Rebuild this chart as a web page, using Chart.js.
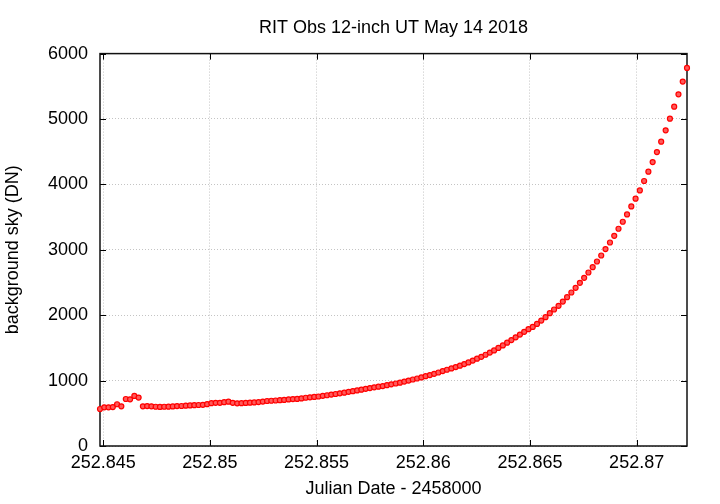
<!DOCTYPE html>
<html>
<head>
<meta charset="utf-8">
<title>RIT Obs 12-inch UT May 14 2018</title>
<script src="https://cdn.jsdelivr.net/npm/chart.js@4.4.1/dist/chart.umd.min.js"></script>
<style>
  html, body { margin: 0; padding: 0; background: #fff; }
  #wrap { width: 720px; height: 504px; }
</style>
</head>
<body>
<div id="wrap"><canvas id="skyChart"></canvas></div>
<script>
// Julian Date - 2458000
const julianDate = [
  252.84485, 252.84505, 252.84525, 252.84545, 252.84565, 252.84585, 252.84606, 252.84626, 252.84646, 252.84666,
  252.84686, 252.84706, 252.84726, 252.84746, 252.84766, 252.84786, 252.84806, 252.84826, 252.84846, 252.84867,
  252.84887, 252.84907, 252.84927, 252.84947, 252.84967, 252.84987, 252.85007, 252.85027, 252.85047, 252.85067,
  252.85087, 252.85107, 252.85128, 252.85148, 252.85168, 252.85188, 252.85208, 252.85228, 252.85248, 252.85268,
  252.85288, 252.85308, 252.85328, 252.85348, 252.85369, 252.85389, 252.85409, 252.85429, 252.85449, 252.85469,
  252.85489, 252.85509, 252.85529, 252.85549, 252.85569, 252.85589, 252.85609, 252.85630, 252.85650, 252.85670,
  252.85690, 252.85710, 252.85730, 252.85750, 252.85770, 252.85790, 252.85810, 252.85830, 252.85850, 252.85871,
  252.85891, 252.85911, 252.85931, 252.85951, 252.85971, 252.85991, 252.86011, 252.86031, 252.86051, 252.86071,
  252.86091, 252.86111, 252.86132, 252.86152, 252.86172, 252.86192, 252.86212, 252.86232, 252.86252, 252.86272,
  252.86292, 252.86312, 252.86332, 252.86352, 252.86373, 252.86393, 252.86413, 252.86433, 252.86453, 252.86473,
  252.86493, 252.86513, 252.86533, 252.86553, 252.86573, 252.86593, 252.86613, 252.86634, 252.86654, 252.86674,
  252.86694, 252.86714, 252.86734, 252.86754, 252.86774, 252.86794, 252.86814, 252.86834, 252.86854, 252.86875,
  252.86895, 252.86915, 252.86935, 252.86955, 252.86975, 252.86995, 252.87015, 252.87035, 252.87055, 252.87075,
  252.87095, 252.87115, 252.87136, 252.87156, 252.87176, 252.87196, 252.87216, 252.87236
];

// background sky (DN)
const skyCounts = [
  566, 592, 592, 595, 638, 607, 719, 714, 765, 740,
  607, 610, 607, 600, 597, 600, 602, 605, 610, 612,
  617, 620, 625, 627, 630, 640, 655, 660, 660, 670,
  678, 660, 653, 655, 658, 662, 666, 672, 680, 688,
  692, 696, 700, 705, 712, 717, 720, 728, 738, 744,
  750, 757, 767, 776, 786, 795, 806, 816, 828, 838,
  850, 862, 874, 886, 897, 907, 917, 930, 943, 956,
  968, 985, 1000, 1017, 1032, 1048, 1067, 1085, 1104, 1124,
  1145, 1166, 1186, 1207, 1228, 1252, 1278, 1306, 1335, 1363,
  1395, 1428, 1462, 1500, 1538, 1580, 1620, 1662, 1704, 1746,
  1786, 1821, 1867, 1918, 1970, 2031, 2087, 2143, 2209, 2276,
  2347, 2418, 2495, 2572, 2653, 2735, 2821, 2913, 3011, 3112,
  3214, 3322, 3429, 3541, 3663, 3781, 3908, 4052, 4194, 4342,
  4495, 4653, 4827, 5005, 5189, 5378, 5572, 5781
];

const xTicks = [252.845, 252.85, 252.855, 252.86, 252.865, 252.87];
const yTicks = [0, 1000, 2000, 3000, 4000, 5000, 6000];

Chart.defaults.font.family = '"Liberation Sans", Arial, sans-serif';
Chart.defaults.font.size = 18;
Chart.defaults.color = '#000';

// gnuplot style box with inward ticks on all four sides
const framePlugin = {
  id: 'frame',
  beforeDatasetsDraw(chart) {
    const { ctx, chartArea: a, scales } = chart;
    ctx.save();
    ctx.strokeStyle = '#000';
    ctx.lineWidth = 1;
    ctx.beginPath();
    xTicks.forEach(v => {
      const px = Math.round(scales.x.getPixelForValue(v)) + 0.5;
      ctx.moveTo(px, a.bottom); ctx.lineTo(px, a.bottom - 6);
      ctx.moveTo(px, a.top); ctx.lineTo(px, a.top + 6);
    });
    yTicks.forEach(v => {
      const py = Math.round(scales.y.getPixelForValue(v)) + 0.5;
      ctx.moveTo(a.left, py); ctx.lineTo(a.left + 6, py);
      ctx.moveTo(a.right, py); ctx.lineTo(a.right - 6, py);
    });
    ctx.stroke();
    ctx.lineWidth = 1.5;
    ctx.strokeStyle = '#111';
    ctx.strokeRect(a.left, a.top, a.right - a.left, a.bottom - a.top);
    ctx.restore();
  }
};

new Chart(document.getElementById('skyChart'), {
  type: 'scatter',
  data: {
    datasets: [{
      data: julianDate.map((jd, i) => ({ x: jd, y: skyCounts[i] })),
      pointRadius: 2.5,
      pointBorderWidth: 1.2,
      borderColor: '#ff0000',
      backgroundColor: '#ff5a5a',
      clip: false
    }]
  },
  options: {
    responsive: true,
    maintainAspectRatio: false,
    animation: false,
    layout: { padding: { left: 0, right: 33, top: 0, bottom: 0 } },
    plugins: {
      legend: { display: false },
      tooltip: { enabled: false },
      title: {
        display: true,
        text: 'RIT Obs 12-inch UT May 14 2018',
        fullSize: false,
        font: { size: 18, weight: 'normal' },
        color: '#000',
        padding: { top: 17, bottom: 15 }
      }
    },
    scales: {
      x: {
        type: 'linear',
        min: julianDate[0],
        max: julianDate[julianDate.length - 1],
        afterBuildTicks: scale => { scale.ticks = xTicks.map(v => ({ value: v })); },
        afterFit: scale => { scale.height = 58; },
        ticks: {
          padding: 6,
          maxRotation: 0,
          callback: v => String(v)
        },
        grid: { color: '#c4c4c4', drawTicks: false },
        border: { display: false, dash: [1, 2] },
        title: {
          display: true,
          text: 'Julian Date - 2458000',
          padding: { top: 0, bottom: 4 }
        }
      },
      y: {
        min: 0,
        max: 6000,
        afterBuildTicks: scale => { scale.ticks = yTicks.map(v => ({ value: v })); },
        afterFit: scale => { scale.width = 100; },
        ticks: { padding: 12, callback: v => String(v) },
        grid: { color: '#c4c4c4', drawTicks: false },
        border: { display: false, dash: [1, 2] },
        title: {
          display: true,
          text: 'background sky (DN)',
          padding: { top: 2, bottom: 0 }
        }
      }
    }
  },
  plugins: [framePlugin]
});
</script>
</body>
</html>
